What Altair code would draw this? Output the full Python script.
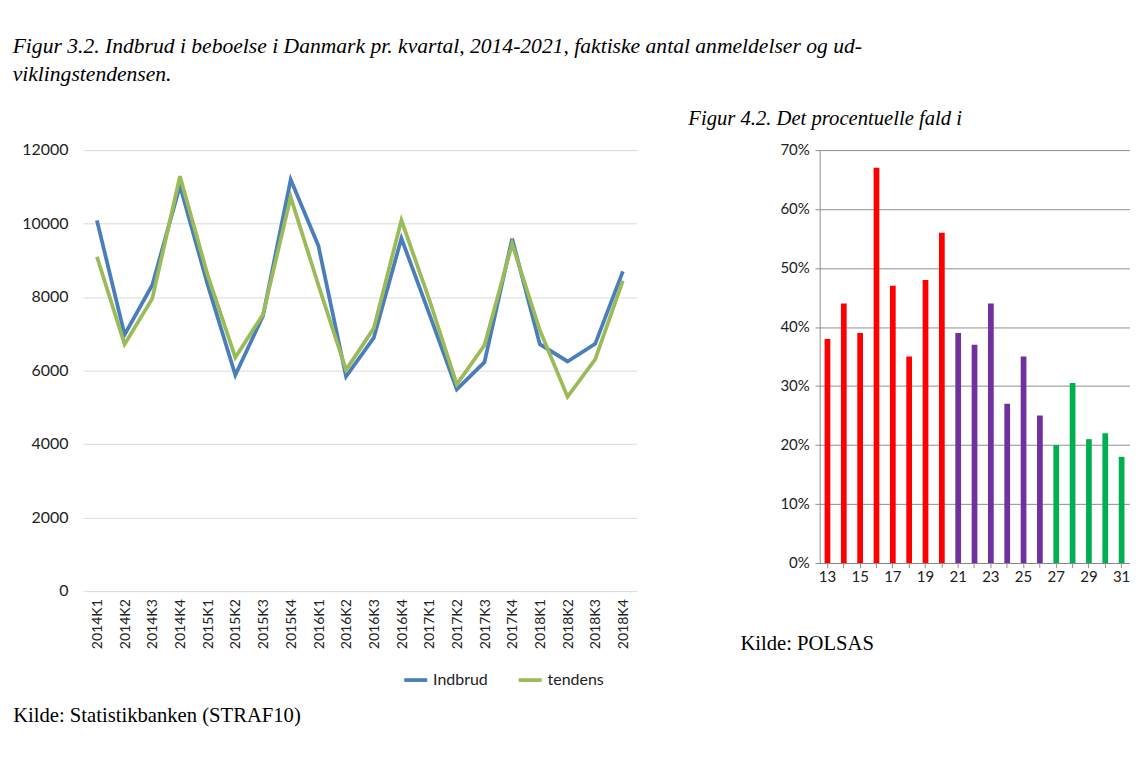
import altair as alt
import pandas as pd

# ---- Figur 3.2: quarterly residential burglaries ----
quarters = ["2014K1", "2014K2", "2014K3", "2014K4",
            "2015K1", "2015K2", "2015K3", "2015K4",
            "2016K1", "2016K2", "2016K3", "2016K4",
            "2017K1", "2017K2", "2017K3", "2017K4",
            "2018K1", "2018K2", "2018K3", "2018K4"]
indbrud = [10090, 6980, 8330, 11030, 8340, 5880, 7490, 11200, 9400, 5840,
           6890, 9600, 7560, 5490, 6230, 9590, 6720, 6250, 6730, 8700]
tendens = [9100, 6720, 7960, 11290, 8600, 6360, 7530, 10720, 8330, 6020,
           7150, 10090, 7950, 5630, 6690, 9450, 7100, 5290, 6310, 8450]
series_names = ["Indbrud", "tendens"]
series_colors = ["#4a7ebb", "#9bbb59"]
y_ticks = [0, 2000, 4000, 6000, 8000, 10000, 12000]

# ---- Figur 4.2: percentage decrease ----
bar_nr = [13, 14, 15, 16, 17, 18, 19, 20, 21, 22, 23, 24, 25, 26, 27, 28, 29, 30, 31]
bar_pct = [38, 44, 39, 67, 47, 35, 48, 56, 39, 37, 44, 27, 35, 25, 20, 30.5, 21, 22, 18]
bar_group = ["a"] * 8 + ["b"] * 6 + ["c"] * 5
group_colors = ["#ff0000", "#7030a0", "#00b050"]

title_main = ["Figur 3.2. Indbrud i beboelse i Danmark pr. kvartal, 2014-2021, faktiske antal anmeldelser og ud-",
              "viklingstendensen."]
title_bar = "Figur 4.2. Det procentuelle fald i"
source_line = "Kilde: Statistikbanken (STRAF10)"
source_bar = "Kilde: POLSAS"

LW, LH = 590, 470
BW, BH = 330, 440

line_df = pd.DataFrame({
    "kvartal": quarters * 2,
    "serie": [series_names[0]] * len(quarters) + [series_names[1]] * len(quarters),
    "antal": indbrud + tendens,
})

line = alt.Chart(line_df).mark_line(strokeWidth=4).encode(
    x=alt.X("kvartal:N", sort=quarters,
            scale=alt.Scale(type="point", padding=0.5),
            axis=alt.Axis(labelAngle=-90, ticks=False, domain=False,
                          labelFont="Lato", labelFontSize=15, labelColor="#222",
                          labelPadding=8,
                          title=source_line, titleFont="Liberation Serif",
                          titleFontSize=22, titleFontWeight="normal", titleColor="#000",
                          titleAnchor="start", titleAlign="left", titleBaseline="top",
                          titleX=-75, titleY=122)),
    y=alt.Y("antal:Q", scale=alt.Scale(domain=[0, 12000]),
            axis=alt.Axis(values=y_ticks, format="d", title=None, domain=False, ticks=False,
                          gridColor="#d9d9d9", labelFont="Lato", labelFontSize=17,
                          labelColor="#222", labelPadding=16)),
    color=alt.Color("serie:N",
                    scale=alt.Scale(domain=series_names, range=series_colors),
                    legend=alt.Legend(orient="none", legendX=340, legendY=LH + 80,
                                      direction="horizontal", title=None,
                                      symbolType="stroke", symbolStrokeWidth=4, symbolSize=600,
                                      labelFont="Lato", labelFontSize=17, labelColor="#222",
                                      columnPadding=24)),
).properties(width=LW, height=LH)

bar_df = pd.DataFrame({
    "nr": bar_nr,
    "pct": [v / 100 for v in bar_pct],
    "gruppe": bar_group,
})

bars = alt.Chart(bar_df).mark_bar().encode(
    x=alt.X("nr:O",
            scale=alt.Scale(paddingInner=0.65, paddingOuter=0.3),
            axis=alt.Axis(labelAngle=0, labelExpr="datum.value % 2 == 1 ? datum.label : ''",
                          labelFont="Lato", labelFontSize=16, labelColor="#222",
                          domainColor="#888", tickColor="#888", tickSize=5,
                          title=source_bar, titleFont="Liberation Serif",
                          titleFontSize=22, titleFontWeight="normal", titleColor="#000",
                          titleAnchor="start", titleAlign="left", titleBaseline="top",
                          titleX=-85, titleY=75)),
    y=alt.Y("pct:Q", scale=alt.Scale(domain=[0, 0.7]),
            axis=alt.Axis(format="%", tickCount=7, title=None,
                          domainColor="#888", tickColor="#888", tickSize=5,
                          gridColor="#888", labelFont="Lato", labelFontSize=16,
                          labelColor="#222", labelPadding=6)),
    color=alt.Color("gruppe:N", scale=alt.Scale(domain=["a", "b", "c"], range=group_colors),
                    legend=None),
).properties(
    width=BW, height=BH,
    title=alt.TitleParams(title_bar, font="Liberation Serif", fontStyle="italic",
                          fontSize=22, fontWeight="normal", color="#000",
                          anchor="start", offset=14, dx=-55),
)

chart = alt.hconcat(line, bars, spacing=55).resolve_scale(
    color="independent"
).resolve_legend(
    color="independent"
).properties(
    title=alt.TitleParams(title_main, font="Liberation Serif", fontStyle="italic",
                          fontSize=23, fontWeight="normal", color="#000",
                          anchor="start", lineHeight=30, offset=24),
    background="white",
).configure_view(stroke=None)

chart.save("out.html", embed_options={"renderer": "svg", "actions": False})
